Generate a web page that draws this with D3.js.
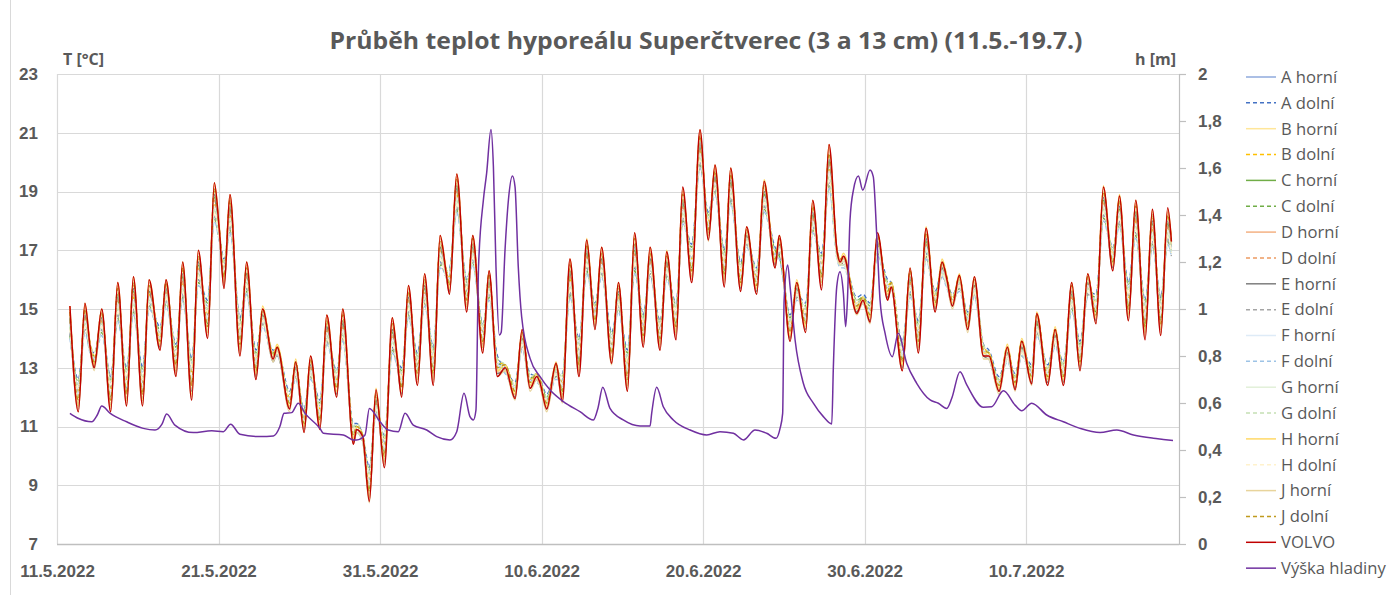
<!DOCTYPE html>
<html><head><meta charset="utf-8">
<script src="https://cdn.jsdelivr.net/npm/d3@7"></script>
<style>
html,body{margin:0;padding:0;background:#fff;}
svg{display:block;font-family:"Open Sans","DejaVu Sans",sans-serif;}
</style></head>
<body><svg id="chart" width="1390" height="595"></svg>
<script>
// ---------- DATA ----------
const chartTitle = "Průběh teplot hyporeálu Superčtverec (3 a 13 cm) (11.5.-19.7.)";
const leftAxisTitle = "T [°C]";
const rightAxisTitle = "h [m]";
const leftTicks = [7, 9, 11, 13, 15, 17, 19, 21, 23];
const rightTicks = [0, 0.2, 0.4, 0.6, 0.8, 1, 1.2, 1.4, 1.6, 1.8, 2];
const rightTickLabels = ["0", "0,2", "0,4", "0,6", "0,8", "1", "1,2", "1,4", "1,6", "1,8", "2"];
const dateTicks = [0, 10, 20, 30, 40, 50, 60]; // days since 11.5.2022
const dateLabels = ["11.5.2022", "21.5.2022", "31.5.2022", "10.6.2022", "20.6.2022", "30.6.2022", "10.7.2022"];
const dayDomain = [0, 69.47];

// times (days since 11.5.2022 00:00) of temperature samples
const tempDays = [0.8,1.32,1.73,2.05,2.3,2.77,3.32,3.76,4.31,4.73,
5.3,5.7,6.38,6.75,7.37,7.78,8.34,8.75,9.33,9.74,
10.05,10.34,10.71,11.33,11.74,12.32,12.73,13.38,13.63,14.4,
14.78,15.3,15.7,16.28,16.7,17.32,17.69,18.35,18.55,18.93,
19.34,19.75,20.27,20.76,21.05,21.34,21.76,22.32,22.76,23.3,
23.72,24.1,24.3,24.75,25.37,25.74,26.36,26.75,27.27,27.75,
28.36,28.8,29.29,29.7,29.9,30.32,30.9,31.29,31.76,32.32,
32.8,33.31,33.72,34.34,34.76,35.32,35.76,36.3,36.72,37.34,
37.75,38.33,38.74,39.3,39.81,40.33,40.74,41.32,41.71,42.33,
42.7,43.32,43.78,44.46,44.72,45.39,45.8,46.35,46.79,47.34,
47.8,48.3,48.5,48.7,49.52,49.9,50.34,50.8,51.43,51.65,
52.34,52.82,53.33,53.81,54.37,54.8,55.1,55.44,55.87,56.39,
56.8,57.36,57.7,58.33,58.84,59.32,59.73,60.35,60.66,61.34,
61.8,62.31,62.83,63.34,63.82,64.33,64.79,65.37,65.78,66.34,
66.79,67.37,67.82,68.34,68.77,69.0];

const aHorni = [14.8,12.1,14.9,13.8,13.3,14.8,12.1,15.5,12.3,15.7,
12.3,15.7,14.0,15.8,13.3,16.2,12.6,16.6,14.6,18.9,
17.7,16.2,18.5,14.1,16.3,13.1,14.9,13.5,13.7,11.9,
13.1,11.2,13.2,11.4,14.5,12.5,14.6,10.8,11.0,10.7,
9.0,12.0,10.2,14.3,13.4,12.5,15.5,13.0,15.8,13.1,
17.2,16.3,16.0,19.2,15.5,17.2,14.0,16.0,13.1,13.1,
12.3,14.1,12.6,12.8,12.6,11.9,13.1,12.3,16.3,13.3,
17.0,14.8,16.8,13.7,15.6,12.9,17.1,14.3,16.8,14.1,
16.7,14.6,18.7,16.5,20.6,17.8,19.6,16.4,19.4,16.1,
17.6,16.0,19.0,16.8,17.3,14.4,15.8,14.7,18.3,16.3,
20.1,17.0,16.7,16.8,15.1,15.4,14.9,17.4,15.7,15.9,
13.4,16.1,14.1,17.4,15.3,16.5,16.0,15.3,16.1,14.6,
15.9,13.7,13.5,12.5,13.6,12.5,13.8,12.8,14.6,12.8,
14.2,12.8,15.6,13.4,16.0,15.0,18.8,16.7,18.5,15.2,
18.3,14.6,18.0,14.7,18.0,17.2];
const aDolni = [14.2,12.6,14.4,13.7,13.5,14.3,12.7,14.8,13.0,15.0,
13.0,15.2,14.4,15.3,13.8,15.5,13.3,16.0,15.3,18.2,
17.5,16.7,17.8,14.7,15.7,13.6,14.6,13.6,13.6,12.2,
12.8,11.6,12.8,11.9,14.0,12.9,14.1,11.1,11.1,10.7,
9.6,11.6,10.7,13.7,13.3,13.0,14.9,13.5,15.3,13.7,
16.6,16.4,16.4,18.5,16.0,16.7,14.5,15.5,13.4,13.0,
12.5,13.8,12.8,12.7,12.6,12.1,12.8,12.8,15.6,14.0,
16.4,15.2,16.3,14.2,15.1,13.6,16.4,14.8,16.3,14.6,
16.2,15.2,18.1,17.2,20.0,18.3,19.1,17.0,18.8,16.6,
17.3,16.4,18.5,17.1,16.9,14.8,15.5,15.2,17.8,16.9,
19.3,16.9,16.6,16.6,15.4,15.5,15.2,17.0,16.0,15.9,
13.9,15.6,14.6,16.9,15.6,16.3,15.9,15.5,15.8,14.9,
15.6,13.8,13.6,12.7,13.4,12.8,13.6,13.1,14.3,13.1,
13.9,13.2,15.1,13.9,15.6,15.5,18.2,17.1,18.0,15.9,
17.6,15.3,17.3,15.4,17.4,17.0];
const bHorni = [14.8,11.8,14.9,13.7,13.1,14.8,11.8,15.6,12.0,15.8,
12.0,15.7,13.8,15.8,13.0,16.3,12.3,16.7,14.3,19.0,
17.6,16.0,18.6,13.7,16.3,12.8,14.9,13.3,13.6,11.7,
13.1,11.0,13.2,11.1,14.5,12.2,14.7,10.6,10.9,10.6,
8.7,12.0,9.9,14.4,13.3,12.2,15.5,12.7,15.9,12.7,
17.2,16.2,15.7,19.3,15.2,17.3,13.8,16.1,12.9,13.0,
12.1,14.1,12.4,12.7,12.5,11.7,13.0,12.1,16.4,13.0,
17.1,14.5,16.8,13.4,15.7,12.5,17.3,14.0,16.8,13.9,
16.7,14.3,18.8,16.2,20.8,17.6,19.6,16.1,19.5,15.8,
17.6,15.7,19.1,16.6,17.3,14.1,15.8,14.4,18.4,16.0,
20.2,16.9,16.6,16.7,15.0,15.3,14.7,17.4,15.5,15.8,
13.1,16.2,13.8,17.5,15.1,16.5,16.0,15.2,16.0,14.4,
15.9,13.5,13.4,12.3,13.6,12.4,13.8,12.6,14.7,12.6,
14.2,12.6,15.7,13.1,16.0,14.7,18.9,16.5,18.6,14.9,
18.4,14.3,18.1,14.4,18.1,17.2];
const bDolni = [14.6,12.2,14.7,13.8,13.4,14.6,12.3,15.3,12.6,15.4,
12.5,15.5,14.1,15.6,13.4,15.9,12.8,16.4,14.8,18.6,
17.6,16.4,18.2,14.3,16.1,13.3,14.8,13.5,13.7,12.0,
13.0,11.3,13.0,11.6,14.3,12.6,14.4,10.9,11.0,10.7,
9.2,11.8,10.4,14.1,13.4,12.7,15.3,13.1,15.6,13.3,
17.0,16.3,16.1,18.9,15.6,17.0,14.2,15.8,13.2,13.1,
12.4,14.0,12.6,12.8,12.6,11.9,13.0,12.5,16.0,13.6,
16.8,14.9,16.6,13.8,15.4,13.1,16.9,14.4,16.6,14.3,
16.5,14.8,18.5,16.7,20.4,18.0,19.4,16.6,19.2,16.3,
17.5,16.1,18.9,16.9,17.2,14.5,15.7,14.8,18.1,16.5,
19.8,16.9,16.7,16.7,15.2,15.4,15.0,17.2,15.8,15.9,
13.6,15.9,14.2,17.2,15.4,16.4,16.0,15.4,16.0,14.7,
15.8,13.7,13.5,12.5,13.5,12.6,13.7,12.9,14.5,12.9,
14.1,13.0,15.4,13.6,15.9,15.2,18.6,16.9,18.4,15.4,
18.0,14.9,17.7,15.0,17.8,17.1];
const cHorni = [14.7,12.0,14.8,13.7,13.2,14.7,12.0,15.4,12.2,15.6,
12.2,15.6,13.9,15.7,13.2,16.1,12.5,16.5,14.5,18.8,
17.6,16.1,18.4,14.0,16.2,13.0,14.8,13.4,13.6,11.8,
13.0,11.1,13.1,11.3,14.4,12.4,14.5,10.7,10.9,10.6,
8.9,11.9,10.1,14.2,13.3,12.4,15.4,12.9,15.7,13.0,
17.1,16.2,15.9,19.1,15.4,17.1,13.9,15.9,13.0,13.0,
12.2,14.0,12.5,12.7,12.5,11.8,13.0,12.2,16.2,13.2,
16.9,14.7,16.7,13.6,15.5,12.8,17.0,14.2,16.7,14.0,
16.6,14.5,18.6,16.4,20.5,17.7,19.5,16.3,19.3,16.0,
17.5,15.9,18.9,16.7,17.2,14.3,15.7,14.6,18.2,16.2,
20.0,16.9,16.6,16.7,15.0,15.3,14.8,17.3,15.6,15.8,
13.3,16.0,14.0,17.3,15.2,16.4,15.9,15.2,16.0,14.5,
15.8,13.6,13.4,12.4,13.5,12.4,13.7,12.7,14.5,12.7,
14.1,12.7,15.5,13.3,15.9,14.9,18.7,16.6,18.4,15.1,
18.2,14.5,17.9,14.6,17.9,17.1];
const cDolni = [14.1,12.5,14.3,13.6,13.4,14.2,12.6,14.7,12.9,14.9,
12.9,15.1,14.3,15.2,13.7,15.4,13.2,15.9,15.2,18.1,
17.4,16.6,17.7,14.6,15.6,13.5,14.5,13.5,13.5,12.1,
12.7,11.5,12.7,11.8,13.9,12.8,14.0,11.0,11.0,10.6,
9.5,11.5,10.6,13.6,13.2,12.9,14.8,13.4,15.2,13.6,
16.5,16.3,16.3,18.4,15.9,16.6,14.4,15.4,13.3,12.9,
12.4,13.7,12.7,12.6,12.5,12.0,12.7,12.7,15.5,13.9,
16.3,15.1,16.2,14.1,15.0,13.5,16.3,14.7,16.2,14.5,
16.1,15.1,18.0,17.1,19.9,18.2,19.0,16.9,18.7,16.5,
17.2,16.3,18.4,17.0,16.8,14.7,15.4,15.1,17.7,16.8,
19.2,16.8,16.5,16.5,15.3,15.4,15.1,16.9,15.9,15.8,
13.8,15.5,14.5,16.8,15.5,16.2,15.8,15.4,15.7,14.8,
15.5,13.7,13.5,12.6,13.3,12.7,13.5,13.0,14.2,13.0,
13.8,13.1,15.0,13.8,15.5,15.4,18.1,17.0,17.9,15.8,
17.5,15.2,17.2,15.3,17.3,16.9];
const dHorni = [15.0,11.6,15.1,13.7,13.0,14.9,11.6,15.8,11.8,16.0,
11.8,15.9,13.7,15.9,12.8,16.5,12.0,16.9,14.1,19.2,
17.7,15.8,18.8,13.5,16.5,12.7,15.0,13.3,13.7,11.6,
13.2,10.9,13.3,11.0,14.7,12.1,14.9,10.5,10.9,10.6,
8.5,12.2,9.7,14.6,13.4,12.1,15.7,12.5,16.1,12.5,
17.4,16.2,15.6,19.5,15.0,17.4,13.6,16.2,12.8,13.0,
12.0,14.2,12.3,12.7,12.5,11.6,13.1,11.9,16.6,12.8,
17.3,14.4,17.0,13.2,15.8,12.3,17.5,13.8,17.0,13.7,
16.9,14.1,19.0,16.0,21.0,17.4,19.8,15.9,19.7,15.7,
17.7,15.6,19.3,16.5,17.4,14.0,15.9,14.3,18.6,15.8,
20.5,16.9,16.6,16.8,14.9,15.3,14.6,17.5,15.4,15.8,
13.0,16.3,13.6,17.7,15.0,16.6,16.0,15.1,16.1,14.3,
16.0,13.4,13.4,12.2,13.7,12.3,13.9,12.5,14.8,12.5,
14.3,12.5,15.8,13.0,16.1,14.6,19.1,16.4,18.8,14.7,
18.6,14.1,18.3,14.2,18.3,17.3];
const dDolni = [14.6,11.9,14.7,13.6,13.1,14.6,11.9,15.3,12.1,15.5,
12.1,15.5,13.8,15.6,13.1,16.0,12.4,16.4,14.4,18.7,
17.5,16.0,18.3,13.9,16.1,12.9,14.7,13.3,13.5,11.7,
12.9,11.0,13.0,11.2,14.3,12.3,14.4,10.6,10.8,10.5,
8.8,11.8,10.0,14.1,13.2,12.3,15.3,12.8,15.6,12.9,
17.0,16.1,15.8,19.0,15.3,17.0,13.8,15.8,12.9,12.9,
12.1,13.9,12.4,12.6,12.4,11.7,12.9,12.1,16.1,13.1,
16.8,14.6,16.6,13.5,15.4,12.7,16.9,14.1,16.6,13.9,
16.5,14.4,18.5,16.3,20.4,17.6,19.4,16.2,19.2,15.9,
17.4,15.8,18.8,16.6,17.1,14.2,15.6,14.5,18.1,16.1,
19.9,16.8,16.5,16.6,14.9,15.2,14.7,17.2,15.5,15.7,
13.2,15.9,13.9,17.2,15.1,16.3,15.8,15.1,15.9,14.4,
15.7,13.5,13.3,12.3,13.4,12.3,13.6,12.6,14.4,12.6,
14.0,12.6,15.4,13.2,15.8,14.8,18.6,16.5,18.3,15.0,
18.1,14.4,17.8,14.5,17.8,17.0];
const eHorni = [14.7,11.7,14.8,13.6,13.0,14.7,11.7,15.5,11.9,15.7,
11.9,15.6,13.7,15.7,12.9,16.2,12.2,16.6,14.2,18.9,
17.5,15.9,18.5,13.6,16.2,12.7,14.8,13.2,13.5,11.6,
13.0,10.9,13.1,11.0,14.4,12.1,14.6,10.5,10.8,10.5,
8.6,11.9,9.8,14.3,13.2,12.1,15.4,12.6,15.8,12.6,
17.1,16.1,15.6,19.2,15.1,17.2,13.7,16.0,12.8,12.9,
12.0,14.0,12.3,12.6,12.4,11.6,12.9,12.0,16.3,12.9,
17.0,14.4,16.7,13.3,15.6,12.4,17.2,13.9,16.7,13.8,
16.6,14.2,18.7,16.1,20.7,17.5,19.5,16.0,19.4,15.7,
17.5,15.6,19.0,16.5,17.2,14.0,15.7,14.3,18.3,15.9,
20.1,16.8,16.5,16.6,14.9,15.2,14.6,17.3,15.4,15.7,
13.0,16.1,13.7,17.4,15.0,16.4,15.9,15.1,15.9,14.3,
15.8,13.4,13.3,12.2,13.5,12.3,13.7,12.5,14.6,12.5,
14.1,12.5,15.6,13.0,15.9,14.6,18.8,16.4,18.5,14.8,
18.3,14.2,18.0,14.3,18.0,17.1];
const eDolni = [14.2,12.2,14.3,13.6,13.3,14.3,12.3,14.8,12.6,15.0,
12.5,15.1,14.0,15.3,13.4,15.5,12.9,16.0,14.8,18.2,
17.3,16.4,17.8,14.3,15.7,13.2,14.5,13.3,13.4,11.9,
12.7,11.3,12.7,11.5,13.9,12.6,14.0,10.8,10.9,10.5,
9.2,11.5,10.4,13.7,13.1,12.6,14.9,13.1,15.2,13.3,
16.6,16.1,16.1,18.5,15.6,16.7,14.2,15.5,13.1,12.9,
12.2,13.7,12.5,12.6,12.4,11.8,12.7,12.5,15.6,13.6,
16.4,14.9,16.2,13.8,15.1,13.1,16.5,14.4,16.2,14.3,
16.2,14.8,18.1,16.7,20.0,17.9,19.0,16.6,18.8,16.2,
17.2,16.1,18.5,16.8,16.9,14.4,15.4,14.8,17.7,16.5,
19.3,16.7,16.5,16.5,15.1,15.2,14.9,16.9,15.7,15.7,
13.5,15.6,14.2,16.8,15.3,16.1,15.8,15.2,15.7,14.6,
15.5,13.6,13.3,12.4,13.3,12.5,13.4,12.8,14.2,12.8,
13.8,12.9,15.1,13.5,15.5,15.1,18.2,16.8,18.0,15.4,
17.6,14.9,17.3,15.0,17.4,16.8];
const fHorni = [14.5,12.1,14.6,13.7,13.3,14.5,12.2,15.2,12.5,15.3,
12.4,15.4,14.0,15.5,13.3,15.8,12.7,16.3,14.7,18.5,
17.5,16.3,18.1,14.2,16.0,13.2,14.7,13.4,13.6,11.9,
12.9,11.2,12.9,11.5,14.2,12.5,14.3,10.8,10.9,10.6,
9.1,11.7,10.3,14.0,13.3,12.6,15.2,13.0,15.5,13.2,
16.9,16.2,16.0,18.8,15.5,16.9,14.1,15.7,13.1,13.0,
12.3,13.9,12.5,12.7,12.5,11.8,12.9,12.4,15.9,13.5,
16.7,14.8,16.5,13.7,15.3,13.0,16.8,14.3,16.5,14.2,
16.4,14.7,18.4,16.6,20.3,17.9,19.3,16.5,19.1,16.2,
17.4,16.0,18.8,16.8,17.1,14.4,15.6,14.7,18.0,16.4,
19.7,16.8,16.6,16.6,15.1,15.3,14.9,17.1,15.7,15.8,
13.5,15.8,14.1,17.1,15.3,16.3,15.9,15.3,15.9,14.6,
15.7,13.6,13.4,12.4,13.4,12.5,13.6,12.8,14.4,12.8,
14.0,12.9,15.3,13.5,15.8,15.1,18.5,16.8,18.3,15.3,
17.9,14.8,17.6,14.9,17.7,17.0];
const fDolni = [14.0,12.4,14.2,13.5,13.3,14.1,12.5,14.6,12.8,14.8,
12.8,15.0,14.2,15.1,13.6,15.3,13.1,15.8,15.1,18.0,
17.3,16.5,17.6,14.5,15.5,13.4,14.4,13.4,13.4,12.0,
12.6,11.4,12.6,11.7,13.8,12.7,13.9,10.9,10.9,10.5,
9.4,11.4,10.5,13.5,13.1,12.8,14.7,13.3,15.1,13.5,
16.4,16.2,16.2,18.3,15.8,16.5,14.3,15.3,13.2,12.8,
12.3,13.6,12.6,12.5,12.4,11.9,12.6,12.6,15.4,13.8,
16.2,15.0,16.1,14.0,14.9,13.4,16.2,14.6,16.1,14.4,
16.0,15.0,17.9,17.0,19.8,18.1,18.9,16.8,18.6,16.4,
17.1,16.2,18.3,16.9,16.7,14.6,15.3,15.0,17.6,16.7,
19.1,16.7,16.4,16.4,15.2,15.3,15.0,16.8,15.8,15.7,
13.7,15.4,14.4,16.7,15.4,16.1,15.7,15.3,15.6,14.7,
15.4,13.6,13.4,12.5,13.2,12.6,13.4,12.9,14.1,12.9,
13.7,13.0,14.9,13.7,15.4,15.3,18.0,16.9,17.8,15.7,
17.4,15.1,17.1,15.2,17.2,16.8];
const gHorni = [14.4,12.0,14.5,13.6,13.2,14.4,12.1,15.1,12.4,15.2,
12.3,15.3,13.9,15.4,13.2,15.7,12.6,16.2,14.6,18.4,
17.4,16.2,18.0,14.1,15.9,13.1,14.6,13.3,13.5,11.8,
12.8,11.1,12.8,11.4,14.1,12.4,14.2,10.7,10.8,10.5,
9.0,11.6,10.2,13.9,13.2,12.5,15.1,12.9,15.4,13.1,
16.8,16.1,15.9,18.7,15.4,16.8,14.0,15.6,13.0,12.9,
12.2,13.8,12.4,12.6,12.4,11.7,12.8,12.3,15.8,13.4,
16.6,14.7,16.4,13.6,15.2,12.9,16.7,14.2,16.4,14.1,
16.3,14.6,18.3,16.5,20.2,17.8,19.2,16.4,19.0,16.1,
17.3,15.9,18.7,16.7,17.0,14.3,15.5,14.6,17.9,16.3,
19.6,16.7,16.5,16.5,15.0,15.2,14.8,17.0,15.6,15.7,
13.4,15.7,14.0,17.0,15.2,16.2,15.8,15.2,15.8,14.5,
15.6,13.5,13.3,12.3,13.3,12.4,13.5,12.7,14.3,12.7,
13.9,12.8,15.2,13.4,15.7,15.0,18.4,16.7,18.2,15.2,
17.8,14.7,17.5,14.8,17.6,16.9];
const gDolni = [14.4,12.4,14.5,13.8,13.5,14.5,12.5,15.0,12.8,15.2,
12.7,15.3,14.2,15.5,13.6,15.7,13.1,16.2,15.0,18.4,
17.5,16.6,18.0,14.5,15.9,13.4,14.7,13.5,13.6,12.1,
12.9,11.5,12.9,11.7,14.1,12.8,14.2,11.0,11.1,10.7,
9.4,11.7,10.6,13.9,13.3,12.8,15.1,13.3,15.4,13.5,
16.8,16.3,16.3,18.7,15.8,16.9,14.4,15.7,13.3,13.1,
12.4,13.9,12.7,12.8,12.6,12.0,12.9,12.7,15.8,13.8,
16.6,15.1,16.4,14.0,15.3,13.3,16.7,14.6,16.4,14.5,
16.4,15.0,18.3,16.9,20.2,18.1,19.2,16.8,19.0,16.4,
17.4,16.3,18.7,17.0,17.1,14.6,15.6,15.0,17.9,16.7,
19.5,16.9,16.7,16.7,15.3,15.4,15.1,17.1,15.9,15.9,
13.7,15.8,14.4,17.0,15.5,16.3,16.0,15.4,15.9,14.8,
15.7,13.8,13.5,12.6,13.5,12.7,13.6,13.0,14.4,13.0,
14.0,13.1,15.3,13.7,15.7,15.3,18.4,17.0,18.2,15.6,
17.8,15.1,17.5,15.2,17.6,17.0];
const hHorni = [15.1,11.7,15.2,13.8,13.1,15.0,11.7,15.9,11.9,16.1,
11.9,16.0,13.8,16.0,12.9,16.6,12.1,17.0,14.2,19.3,
17.8,15.9,18.9,13.6,16.6,12.8,15.1,13.4,13.8,11.7,
13.3,11.0,13.4,11.1,14.8,12.2,15.0,10.6,11.0,10.7,
8.6,12.3,9.8,14.7,13.5,12.2,15.8,12.6,16.2,12.6,
17.5,16.3,15.7,19.6,15.1,17.5,13.7,16.3,12.9,13.1,
12.1,14.3,12.4,12.8,12.6,11.7,13.2,12.0,16.7,12.9,
17.4,14.5,17.1,13.3,15.9,12.4,17.6,13.9,17.1,13.8,
17.0,14.2,19.1,16.1,21.1,17.5,19.9,16.0,19.8,15.8,
17.8,15.7,19.4,16.6,17.5,14.1,16.0,14.4,18.7,15.9,
20.6,17.0,16.7,16.9,15.0,15.4,14.7,17.6,15.5,15.9,
13.1,16.4,13.7,17.8,15.1,16.7,16.1,15.2,16.2,14.4,
16.1,13.5,13.5,12.3,13.8,12.4,14.0,12.6,14.9,12.6,
14.4,12.6,15.9,13.1,16.2,14.7,19.2,16.5,18.9,14.8,
18.7,14.2,18.4,14.3,18.4,17.4];
const hDolni = [14.3,12.3,14.4,13.7,13.4,14.4,12.4,14.9,12.7,15.1,
12.6,15.2,14.1,15.4,13.5,15.6,13.0,16.1,14.9,18.3,
17.4,16.5,17.9,14.4,15.8,13.3,14.6,13.4,13.5,12.0,
12.8,11.4,12.8,11.6,14.0,12.7,14.1,10.9,11.0,10.6,
9.3,11.6,10.5,13.8,13.2,12.7,15.0,13.2,15.3,13.4,
16.7,16.2,16.2,18.6,15.7,16.8,14.3,15.6,13.2,13.0,
12.3,13.8,12.6,12.7,12.5,11.9,12.8,12.6,15.7,13.7,
16.5,15.0,16.3,13.9,15.2,13.2,16.6,14.5,16.3,14.4,
16.3,14.9,18.2,16.8,20.1,18.0,19.1,16.7,18.9,16.3,
17.3,16.2,18.6,16.9,17.0,14.5,15.5,14.9,17.8,16.6,
19.4,16.8,16.6,16.6,15.2,15.3,15.0,17.0,15.8,15.8,
13.6,15.7,14.3,16.9,15.4,16.2,15.9,15.3,15.8,14.7,
15.6,13.7,13.4,12.5,13.4,12.6,13.5,12.9,14.3,12.9,
13.9,13.0,15.2,13.6,15.6,15.2,18.3,16.9,18.1,15.5,
17.7,15.0,17.4,15.1,17.5,16.9];
const jHorni = [14.9,11.5,15.0,13.6,12.9,14.8,11.5,15.7,11.7,15.9,
11.7,15.8,13.6,15.8,12.7,16.4,11.9,16.8,14.0,19.1,
17.6,15.7,18.7,13.4,16.4,12.6,14.9,13.2,13.6,11.5,
13.1,10.8,13.2,10.9,14.6,12.0,14.8,10.4,10.8,10.5,
8.4,12.1,9.6,14.5,13.3,12.0,15.6,12.4,16.0,12.4,
17.3,16.1,15.5,19.4,14.9,17.3,13.5,16.1,12.7,12.9,
11.9,14.1,12.2,12.6,12.4,11.5,13.0,11.8,16.5,12.7,
17.2,14.3,16.9,13.1,15.7,12.2,17.4,13.7,16.9,13.6,
16.8,14.0,18.9,15.9,20.9,17.3,19.7,15.8,19.6,15.6,
17.6,15.5,19.2,16.4,17.3,13.9,15.8,14.2,18.5,15.7,
20.4,16.8,16.5,16.7,14.8,15.2,14.5,17.4,15.3,15.7,
12.9,16.2,13.5,17.6,14.9,16.5,15.9,15.0,16.0,14.2,
15.9,13.3,13.3,12.1,13.6,12.2,13.8,12.4,14.7,12.4,
14.2,12.4,15.7,12.9,16.0,14.5,19.0,16.3,18.7,14.6,
18.5,14.0,18.2,14.1,18.2,17.2];
const jDolni = [14.9,11.9,15.0,13.8,13.2,14.9,11.9,15.7,12.1,15.9,
12.1,15.8,13.9,15.9,13.1,16.4,12.4,16.8,14.4,19.1,
17.7,16.1,18.7,13.8,16.4,12.9,15.0,13.4,13.7,11.8,
13.2,11.1,13.3,11.2,14.6,12.3,14.8,10.7,11.0,10.7,
8.8,12.1,10.0,14.5,13.4,12.3,15.6,12.8,16.0,12.8,
17.3,16.3,15.8,19.4,15.3,17.4,13.9,16.2,13.0,13.1,
12.2,14.2,12.5,12.8,12.6,11.8,13.1,12.2,16.5,13.1,
17.2,14.6,16.9,13.5,15.8,12.6,17.4,14.1,16.9,14.0,
16.8,14.4,18.9,16.3,20.9,17.7,19.7,16.2,19.6,15.9,
17.7,15.8,19.2,16.7,17.4,14.2,15.9,14.5,18.5,16.1,
20.3,17.0,16.7,16.8,15.1,15.4,14.8,17.5,15.6,15.9,
13.2,16.3,13.9,17.6,15.2,16.6,16.1,15.3,16.1,14.5,
16.0,13.6,13.5,12.4,13.7,12.5,13.9,12.7,14.8,12.7,
14.3,12.7,15.8,13.2,16.1,14.8,19.0,16.6,18.7,15.0,
18.5,14.4,18.2,14.5,18.2,17.3];
const volvo = [15.1,11.5,15.2,13.7,13.0,15.0,11.5,15.9,11.7,16.1,
11.7,16.0,13.6,16.0,12.7,16.6,11.9,17.0,14.0,19.3,
17.7,15.7,18.9,13.4,16.6,12.6,15.0,13.3,13.7,11.6,
13.2,10.8,13.4,10.9,14.8,12.0,15.0,10.4,10.9,10.65,
8.45,12.25,9.6,14.7,13.4,12.0,15.8,12.4,16.2,12.4,
17.5,16.2,15.5,19.6,14.9,17.5,13.5,16.3,12.7,13.0,
11.95,14.3,12.3,12.7,12.5,11.6,13.15,11.85,16.7,12.7,
17.35,14.3,17.1,13.15,15.9,12.2,17.6,13.7,17.1,13.6,
16.95,13.95,19.15,15.9,21.1,17.35,19.9,15.75,19.8,15.6,
17.8,15.5,19.35,16.4,17.5,13.9,15.9,14.2,18.7,15.65,
20.6,16.95,16.6,16.8,14.85,15.3,14.55,17.6,15.3,15.75,
12.9,16.4,13.5,17.75,14.9,16.6,16.0,15.1,16.15,14.3,
16.1,13.4,13.4,12.2,13.7,12.25,13.9,12.45,14.85,12.4,
14.3,12.4,15.9,12.9,16.2,14.5,19.15,16.3,18.85,14.6,
18.7,13.95,18.4,14.1,18.45,17.3];

// water level (Výška hladiny), metres
const levelDays = [0.8,1.3,2.15,2.5,2.77,3.28,4.31,5.34,6.07,6.5,
6.79,7.3,8.44,9.58,10.3,10.75,11.33,12.57,13.4,13.8,
14.06,14.53,14.94,15.36,16.28,16.49,17.73,18.35,18.55,19.07,
19.34,20.0,20.51,21.13,21.55,22.06,22.89,23.51,24.33,24.75,
25.2,25.57,25.78,25.94,26.1,26.4,26.6,26.87,27.02,27.18,
27.39,27.5,27.74,27.95,28.2,28.36,28.56,28.77,29.29,29.91,
30.53,31.35,32.38,33.21,33.5,33.79,34.24,35.06,36.1,36.72,
36.82,37.13,37.54,38.16,39.2,40.23,41.05,41.88,42.5,43.22,
43.94,44.52,44.77,44.93,45.02,45.24,45.39,45.7,46.21,46.83,
47.45,47.97,48.07,48.28,48.48,48.69,48.83,48.94,49.1,49.31,
49.62,49.89,50.34,50.54,50.75,50.96,51.27,51.72,52.09,52.61,
53.23,54.06,54.57,55.09,55.4,55.91,56.33,57.36,57.87,58.6,
59.32,59.73,60.35,61.28,62.31,63.34,64.58,65.62,66.65,67.88,
68.5,69.1];
const levelValues = [0.556,0.535,0.52,0.55,0.587,0.557,0.52,0.492,0.485,0.51,
0.553,0.506,0.474,0.482,0.478,0.51,0.467,0.457,0.46,0.5,
0.556,0.559,0.599,0.556,0.492,0.471,0.464,0.443,0.443,0.464,
0.577,0.52,0.485,0.478,0.556,0.506,0.485,0.457,0.443,0.478,
0.641,0.542,0.528,0.57,1.18,1.464,1.577,1.764,1.606,1.18,
0.889,0.9,1.251,1.464,1.566,1.52,1.18,0.967,0.79,0.712,
0.655,0.606,0.563,0.528,0.58,0.667,0.577,0.528,0.502,0.502,
0.556,0.667,0.584,0.528,0.485,0.464,0.478,0.471,0.443,0.485,
0.471,0.45,0.492,0.556,1.038,1.187,1.095,0.868,0.684,0.599,
0.542,0.511,0.754,1.095,1.159,1.067,0.925,1.038,1.379,1.506,
1.566,1.506,1.591,1.563,1.322,1.038,0.897,0.797,0.897,0.769,
0.684,0.613,0.599,0.577,0.62,0.733,0.677,0.582,0.584,0.652,
0.591,0.567,0.599,0.549,0.52,0.492,0.474,0.485,0.464,0.45,
0.445,0.44];

const seriesNames = ["A horní","A dolní","B horní","B dolní","C horní","C dolní","D horní","D dolní",
"E horní","E dolní","F horní","F dolní","G horní","G dolní","H horní","H dolní","J horní","J dolní","VOLVO"];
const seriesValues = [aHorni,aDolni,bHorni,bDolni,cHorni,cDolni,dHorni,dDolni,eHorni,eDolni,
fHorni,fDolni,gHorni,gDolni,hHorni,hDolni,jHorni,jDolni,volvo];
const levelName = "Výška hladiny";

// ---------- STYLE ----------
const seriesColors = ["#8FAADC","#4472C4","#FFE699","#FFC000","#70AD47","#70AD47","#F4B183","#ED9A61",
"#7F7F7F","#A5A5A5","#DEEBF7","#9DC3E6","#E2F0D9","#C5E0B4","#FFD966","#FFF2CC","#E8D49C","#C09A1E","#C00000"];
const seriesDashed = [false,true,false,true,false,true,false,true,false,true,false,true,false,true,false,true,false,true,false];
const levelColor = "#7030A0";
const textColor = "#595959";
const gridColor = "#D9D9D9";

// ---------- DRAW ----------
const svg = d3.select("#chart");
const W = 1390, H = 595;
const plot = {left: 57, right: 1179, top: 74, bottom: 544};

svg.append("rect").attr("width", W).attr("height", H).attr("fill", "#fff");
svg.append("line").attr("x1", 10.5).attr("x2", 10.5).attr("y1", 0).attr("y2", H)
  .attr("stroke", gridColor).attr("stroke-width", 1);

const x = d3.scaleLinear().domain(dayDomain).range([plot.left, plot.right]);
const yT = d3.scaleLinear().domain([leftTicks[0], leftTicks[leftTicks.length-1]]).range([plot.bottom, plot.top]);
const yH = d3.scaleLinear().domain([rightTicks[0], rightTicks[rightTicks.length-1]]).range([plot.bottom, plot.top]);

// horizontal gridlines
svg.append("g").selectAll("line").data(leftTicks.slice(1)).join("line")
  .attr("x1", plot.left).attr("x2", plot.right)
  .attr("y1", d => Math.round(yT(d)) + 0.5).attr("y2", d => Math.round(yT(d)) + 0.5)
  .attr("stroke", gridColor).attr("stroke-width", 1.2);
// vertical gridlines
svg.append("g").selectAll("line").data(dateTicks.slice(1)).join("line")
  .attr("x1", d => Math.round(x(d)) + 0.5).attr("x2", d => Math.round(x(d)) + 0.5)
  .attr("y1", plot.top).attr("y2", plot.bottom)
  .attr("stroke", gridColor).attr("stroke-width", 1.2);
// left axis line
svg.append("line").attr("x1", plot.left + 0.5).attr("x2", plot.left + 0.5)
  .attr("y1", plot.top).attr("y2", plot.bottom).attr("stroke", gridColor).attr("stroke-width", 1.2);

// axes
const gLeft = svg.append("g").attr("transform", `translate(${plot.left},0)`)
  .call(d3.axisLeft(yT).tickValues(leftTicks).tickSize(0).tickPadding(19).tickFormat(d3.format("d")));
gLeft.select(".domain").remove();
gLeft.selectAll("text").attr("fill", textColor).style("font-size", "17px").style("font-weight", "700");

const gBottom = svg.append("g").attr("transform", `translate(0,${plot.bottom})`)
  .call(d3.axisBottom(x).tickValues(dateTicks).tickSize(0).tickPadding(21).tickFormat((d, i) => dateLabels[i]));
gBottom.select(".domain").remove();
gBottom.selectAll("text").attr("fill", textColor).style("font-size", "17px").style("font-weight", "700");

const gRight = svg.append("g").attr("transform", `translate(${plot.right},0)`)
  .call(d3.axisRight(yH).tickValues(rightTicks).tickSize(7).tickSizeOuter(0).tickPadding(12)
    .tickFormat((d, i) => rightTickLabels[i]));
gRight.select(".domain").attr("stroke", "#BFBFBF").attr("stroke-width", 1.2);
gRight.selectAll(".tick line").attr("stroke", "#BFBFBF").attr("stroke-width", 1.2);
gRight.selectAll("text").attr("fill", textColor).style("font-size", "17px").style("font-weight", "700");

// bottom axis line
svg.append("line").attr("x1", plot.left).attr("x2", plot.right)
  .attr("y1", plot.bottom + 0.5).attr("y2", plot.bottom + 0.5)
  .attr("stroke", "#BFBFBF").attr("stroke-width", 1.6);

// temperature lines
const tLine = d3.line().x((d, i) => x(tempDays[i])).y(d => yT(d)).curve(d3.curveMonotoneX);
const gSeries = svg.append("g");
seriesValues.forEach((vals, k) => {
  gSeries.append("path").datum(vals)
    .attr("d", tLine)
    .attr("fill", "none")
    .attr("stroke", seriesColors[k])
    .attr("stroke-width", k === seriesValues.length - 1 ? 1.5 : 1.4)
    .attr("stroke-dasharray", seriesDashed[k] ? "4,3" : null)
    .attr("stroke-linejoin", "round");
});
// water level
const hLine = d3.line().x((d, i) => x(levelDays[i])).y(d => yH(d)).curve(d3.curveMonotoneX);
svg.append("path").datum(levelValues).attr("d", hLine)
  .attr("fill", "none").attr("stroke", levelColor).attr("stroke-width", 1.5);

// titles
svg.append("text").attr("x", 706).attr("y", 49).attr("text-anchor", "middle")
  .attr("fill", textColor).style("font-size", "23px").style("font-weight", "700")
  .attr("textLength", 753).attr("lengthAdjust", "spacingAndGlyphs")
  .text(chartTitle);
svg.append("text").attr("x", 63).attr("y", 65).attr("fill", textColor)
  .style("font-size", "16px").style("font-weight", "700").text(leftAxisTitle);
svg.append("text").attr("x", 1176).attr("y", 65).attr("text-anchor", "end").attr("fill", textColor)
  .style("font-size", "16px").style("font-weight", "700").text(rightAxisTitle);

// legend
const legendNames = seriesNames.concat([levelName]);
const legendColors = seriesColors.concat([levelColor]);
const legendDashed = seriesDashed.concat([false]);
const lg = svg.append("g");
legendNames.forEach((n, i) => {
  const yy = 77 + i * 25.85;
  lg.append("line").attr("x1", 1246).attr("x2", 1276).attr("y1", yy).attr("y2", yy)
    .attr("stroke", legendColors[i]).attr("stroke-width", 1.5)
    .attr("stroke-dasharray", legendDashed[i] ? "4,3" : null);
  lg.append("text").attr("x", 1281).attr("y", yy).attr("dy", "0.35em")
    .attr("fill", textColor).style("font-size", "16.6px").text(n);
});
</script>
</body></html>
